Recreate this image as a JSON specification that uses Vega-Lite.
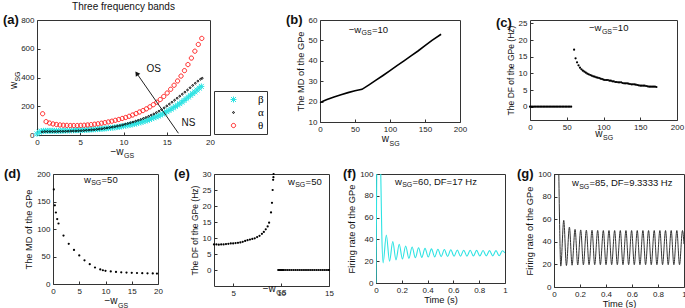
{
"$schema": "https://vega.github.io/schema/vega-lite/v6.json",
"padding": {"left": 2, "top": 1, "right": 0, "bottom": 0},
"background": "white",
"config": {
  "font": "Liberation Sans",
  "view": {"stroke": "#333", "strokeWidth": 1},
  "axis": {"domain": false, "grid": false, "tickSize": -3, "tickCount": 20, "tickColor": "#333", "labelPadding": 6, "labelOverlap": false, "labelFlush": false, "labelFontSize": 8, "labelColor": "#222", "titleFontSize": 9.3, "titleFontWeight": "normal", "titleColor": "#111", "titlePadding": 3},
  "text": {"font": "Liberation Sans", "color": "#111"},
  "title": {"fontSize": 10, "fontWeight": "normal", "color": "#111"}
},
"datasets": {
  "bands": [
{"band":"β","x":0,"y":8},{"band":"β","x":0.25,"y":20},{"band":"β","x":0.5,"y":27},{"band":"β","x":0.75,"y":29},{"band":"β","x":1,"y":29},{"band":"β","x":1.25,"y":29},{"band":"β","x":1.5,"y":29},{"band":"β","x":1.75,"y":29},{"band":"β","x":2,"y":29},{"band":"β","x":2.25,"y":29},{"band":"β","x":2.5,"y":29.5},{"band":"β","x":2.75,"y":29.5},{"band":"β","x":3,"y":30},{"band":"β","x":3.25,"y":30.5},{"band":"β","x":3.5,"y":31},{"band":"β","x":3.75,"y":31.5},{"band":"β","x":4,"y":32},{"band":"β","x":4.25,"y":32.5},{"band":"β","x":4.5,"y":33},{"band":"β","x":4.75,"y":33.5},{"band":"β","x":5,"y":34},{"band":"β","x":5.25,"y":35},{"band":"β","x":5.5,"y":35.5},{"band":"β","x":5.75,"y":36},{"band":"β","x":6,"y":37},{"band":"β","x":6.25,"y":38},{"band":"β","x":6.5,"y":39},{"band":"β","x":6.75,"y":40},{"band":"β","x":7,"y":41},{"band":"β","x":7.25,"y":42},{"band":"β","x":7.5,"y":43.5},{"band":"β","x":7.75,"y":45},{"band":"β","x":8,"y":46},{"band":"β","x":8.25,"y":48},{"band":"β","x":8.5,"y":49.5},{"band":"β","x":8.75,"y":51},{"band":"β","x":9,"y":53},{"band":"β","x":9.25,"y":55},{"band":"β","x":9.5,"y":57},{"band":"β","x":9.75,"y":59.5},{"band":"β","x":10,"y":62},{"band":"β","x":10.25,"y":65},{"band":"β","x":10.5,"y":68},{"band":"β","x":10.75,"y":71},{"band":"β","x":11,"y":74},{"band":"β","x":11.25,"y":77},{"band":"β","x":11.5,"y":81},{"band":"β","x":11.75,"y":85},{"band":"β","x":12,"y":89},{"band":"β","x":12.25,"y":93},{"band":"β","x":12.5,"y":98},{"band":"β","x":12.75,"y":103},{"band":"β","x":13,"y":108},{"band":"β","x":13.25,"y":114},{"band":"β","x":13.5,"y":120},{"band":"β","x":13.75,"y":126},{"band":"β","x":14,"y":132},{"band":"β","x":14.25,"y":139},{"band":"β","x":14.5,"y":146},{"band":"β","x":14.75,"y":154},{"band":"β","x":15,"y":162},{"band":"β","x":15.25,"y":171},{"band":"β","x":15.5,"y":180},{"band":"β","x":15.75,"y":189},{"band":"β","x":16,"y":198},{"band":"β","x":16.25,"y":208},{"band":"β","x":16.5,"y":218},{"band":"β","x":16.75,"y":229},{"band":"β","x":17,"y":240},{"band":"β","x":17.25,"y":252},{"band":"β","x":17.5,"y":264},{"band":"β","x":17.75,"y":276},{"band":"β","x":18,"y":288},{"band":"β","x":18.25,"y":300},{"band":"β","x":18.5,"y":313},{"band":"β","x":18.75,"y":326},{"band":"β","x":19,"y":338},
{"band":"α","x":0.6,"y":22},{"band":"α","x":0.9,"y":24},{"band":"α","x":1.2,"y":24},{"band":"α","x":1.5,"y":24},{"band":"α","x":1.8,"y":24},{"band":"α","x":2.1,"y":24},{"band":"α","x":2.4,"y":24.5},{"band":"α","x":2.7,"y":25},{"band":"α","x":3,"y":25},{"band":"α","x":3.3,"y":25.5},{"band":"α","x":3.6,"y":26},{"band":"α","x":3.9,"y":27},{"band":"α","x":4.2,"y":27.5},{"band":"α","x":4.5,"y":28},{"band":"α","x":4.8,"y":29},{"band":"α","x":5.1,"y":30},{"band":"α","x":5.4,"y":31},{"band":"α","x":5.7,"y":32.5},{"band":"α","x":6,"y":34},{"band":"α","x":6.3,"y":35.5},{"band":"α","x":6.6,"y":37},{"band":"α","x":6.9,"y":39},{"band":"α","x":7.2,"y":41},{"band":"α","x":7.5,"y":43.5},{"band":"α","x":7.8,"y":46},{"band":"α","x":8.1,"y":49},{"band":"α","x":8.4,"y":52},{"band":"α","x":8.7,"y":55},{"band":"α","x":9,"y":58},{"band":"α","x":9.3,"y":62},{"band":"α","x":9.6,"y":66},{"band":"α","x":9.9,"y":70},{"band":"α","x":10.2,"y":75},{"band":"α","x":10.5,"y":80},{"band":"α","x":10.8,"y":85},{"band":"α","x":11.1,"y":90},{"band":"α","x":11.4,"y":96},{"band":"α","x":11.7,"y":102},{"band":"α","x":12,"y":108},{"band":"α","x":12.3,"y":115},{"band":"α","x":12.6,"y":122},{"band":"α","x":12.9,"y":130},{"band":"α","x":13.2,"y":138},{"band":"α","x":13.5,"y":146},{"band":"α","x":13.8,"y":156},{"band":"α","x":14.1,"y":166},{"band":"α","x":14.4,"y":177},{"band":"α","x":14.7,"y":189},{"band":"α","x":15,"y":202},{"band":"α","x":15.3,"y":215},{"band":"α","x":15.6,"y":228},{"band":"α","x":15.9,"y":242},{"band":"α","x":16.2,"y":256},{"band":"α","x":16.5,"y":270},{"band":"α","x":16.8,"y":284},{"band":"α","x":17.1,"y":298},{"band":"α","x":17.4,"y":313},{"band":"α","x":17.7,"y":329},{"band":"α","x":18,"y":345},{"band":"α","x":18.3,"y":360},{"band":"α","x":18.6,"y":375},{"band":"α","x":18.9,"y":388},{"band":"α","x":19.1,"y":395},
{"band":"θ","x":0.65,"y":148},{"band":"θ","x":1.05,"y":93},{"band":"θ","x":1.45,"y":83},{"band":"θ","x":1.85,"y":77},{"band":"θ","x":2.25,"y":73},{"band":"θ","x":2.65,"y":70},{"band":"θ","x":3.05,"y":68},{"band":"θ","x":3.45,"y":67},{"band":"θ","x":3.85,"y":66},{"band":"θ","x":4.25,"y":66},{"band":"θ","x":4.65,"y":66},{"band":"θ","x":5.05,"y":67},{"band":"θ","x":5.45,"y":68},{"band":"θ","x":5.85,"y":70},{"band":"θ","x":6.25,"y":72},{"band":"θ","x":6.65,"y":75},{"band":"θ","x":7.05,"y":78},{"band":"θ","x":7.45,"y":82},{"band":"θ","x":7.85,"y":86},{"band":"θ","x":8.25,"y":91},{"band":"θ","x":8.65,"y":96},{"band":"θ","x":9.05,"y":102},{"band":"θ","x":9.45,"y":108},{"band":"θ","x":9.85,"y":115},{"band":"θ","x":10.25,"y":122},{"band":"θ","x":10.65,"y":130},{"band":"θ","x":11.05,"y":139},{"band":"θ","x":11.45,"y":149},{"band":"θ","x":11.85,"y":160},{"band":"θ","x":12.25,"y":170},{"band":"θ","x":12.65,"y":182},{"band":"θ","x":13.05,"y":196},{"band":"θ","x":13.45,"y":211},{"band":"θ","x":13.85,"y":228},{"band":"θ","x":14.25,"y":247},{"band":"θ","x":14.65,"y":268},{"band":"θ","x":15.05,"y":292},{"band":"θ","x":15.45,"y":318},{"band":"θ","x":15.85,"y":346},{"band":"θ","x":16.25,"y":376},{"band":"θ","x":16.65,"y":410},{"band":"θ","x":17.05,"y":448},{"band":"θ","x":17.45,"y":490},{"band":"θ","x":17.85,"y":535},{"band":"θ","x":18.25,"y":583},{"band":"θ","x":18.65,"y":630},{"band":"θ","x":19.05,"y":672}
  ],
  "b": [
{"x":0,"y":19.5},{"x":5,"y":20.3},{"x":10,"y":21},{"x":20,"y":22.3},{"x":30,"y":23.4},{"x":40,"y":24.4},{"x":50,"y":25.3},{"x":60,"y":26},{"x":70,"y":28.2},{"x":80,"y":30.5},{"x":90,"y":32.8},{"x":100,"y":35.2},{"x":110,"y":37.6},{"x":120,"y":40},{"x":130,"y":42.4},{"x":140,"y":44.8},{"x":150,"y":47.4},{"x":160,"y":50},{"x":173,"y":53}
  ],
  "c": [
{"x":0,"y":0},{"x":2,"y":0},{"x":4,"y":0},{"x":6,"y":0},{"x":8,"y":0},{"x":10,"y":0},{"x":12,"y":0},{"x":14,"y":0},{"x":16,"y":0},{"x":18,"y":0},{"x":20,"y":0},{"x":22,"y":0},{"x":24,"y":0},{"x":26,"y":0},{"x":28,"y":0},{"x":30,"y":0},{"x":32,"y":0},{"x":34,"y":0},{"x":36,"y":0},{"x":38,"y":0},{"x":40,"y":0},{"x":42,"y":0},{"x":44,"y":0},{"x":46,"y":0},{"x":48,"y":0},{"x":50,"y":0},{"x":52,"y":0},{"x":54,"y":0},{"x":56,"y":0},
{"x":60,"y":17.1},{"x":62,"y":14.5},{"x":64,"y":13.3},{"x":66,"y":12.4},{"x":68,"y":11.7},{"x":70,"y":11.2},{"x":72,"y":10.8},{"x":74,"y":10.5},{"x":76,"y":10.2},{"x":78,"y":9.9},{"x":80,"y":9.7},{"x":82,"y":9.5},{"x":84,"y":9.3},{"x":86,"y":9.1},{"x":88,"y":9.0},{"x":90,"y":8.8},{"x":92,"y":8.7},{"x":94,"y":8.6},{"x":96,"y":8.4},{"x":98,"y":8.3},{"x":100,"y":8.1},{"x":102,"y":8.0},{"x":104,"y":8.0},{"x":106,"y":8.0},{"x":108,"y":7.8},{"x":110,"y":7.8},{"x":112,"y":7.6},{"x":114,"y":7.6},{"x":116,"y":7.4},{"x":118,"y":7.4},{"x":120,"y":7.3},{"x":122,"y":7.3},{"x":124,"y":7.3},{"x":126,"y":7.1},{"x":128,"y":7.0},{"x":130,"y":7.0},{"x":132,"y":7.0},{"x":134,"y":6.9},{"x":136,"y":6.8},{"x":138,"y":6.7},{"x":140,"y":6.7},{"x":142,"y":6.7},{"x":144,"y":6.6},{"x":146,"y":6.5},{"x":148,"y":6.4},{"x":150,"y":6.3},{"x":152,"y":6.3},{"x":154,"y":6.3},{"x":156,"y":6.3},{"x":158,"y":6.2},{"x":160,"y":6.1},{"x":162,"y":6.0},{"x":164,"y":6.0},{"x":166,"y":6.0},{"x":168,"y":6.0},{"x":170,"y":6.0},{"x":172,"y":5.9}
  ],
  "d": [
{"x":0.15,"y":172},{"x":0.35,"y":143},{"x":0.55,"y":130},{"x":0.8,"y":118},{"x":1.05,"y":110},{"x":2,"y":88},{"x":3,"y":73},{"x":4,"y":62},{"x":5,"y":52},{"x":6,"y":43},{"x":7,"y":36},{"x":8,"y":30},{"x":9,"y":26.5},{"x":9.5,"y":25},{"x":10,"y":24},{"x":11,"y":22.8},{"x":12,"y":22},{"x":13,"y":21.3},{"x":14,"y":20.8},{"x":15,"y":20.4},{"x":16,"y":20},{"x":17,"y":19.7},{"x":18,"y":19.4},{"x":19,"y":19.2},{"x":19.8,"y":19}
  ],
  "e": [
{"x":3.0,"y":8.0},{"x":3.25,"y":8.0},{"x":3.5,"y":7.9},{"x":3.75,"y":8.0},{"x":4.0,"y":8.0},{"x":4.25,"y":8.1},{"x":4.5,"y":8.2},{"x":4.75,"y":8.3},{"x":5.0,"y":8.3},{"x":5.25,"y":8.4},{"x":5.5,"y":8.5},{"x":5.75,"y":8.6},{"x":6.0,"y":8.8},{"x":6.25,"y":9.1},{"x":6.5,"y":9.3},{"x":6.75,"y":9.5},{"x":7.0,"y":9.7},{"x":7.25,"y":9.9},{"x":7.5,"y":10.3},{"x":7.75,"y":10.7},{"x":8.0,"y":11.3},{"x":8.2,"y":11.9},{"x":8.4,"y":12.7},{"x":8.6,"y":13.6},{"x":8.75,"y":14.8},{"x":8.95,"y":18},{"x":9.05,"y":21},{"x":9.12,"y":25},{"x":9.17,"y":28.2},{"x":9.2,"y":29},{"x":9.22,"y":30},
{"x":9.7,"y":0},{"x":9.8,"y":0},{"x":9.9,"y":0},{"x":10.0,"y":0},{"x":10.1,"y":0},{"x":10.2,"y":0},{"x":10.3,"y":0},{"x":10.5,"y":0},{"x":10.7,"y":0},{"x":10.9,"y":0},{"x":11.1,"y":0},{"x":11.3,"y":0},{"x":11.5,"y":0},{"x":11.7,"y":0},{"x":11.9,"y":0},{"x":12.1,"y":0},{"x":12.3,"y":0},{"x":12.5,"y":0},{"x":12.7,"y":0},{"x":12.9,"y":0},{"x":13.1,"y":0},{"x":13.3,"y":0},{"x":13.5,"y":0},{"x":13.7,"y":0},{"x":13.9,"y":0},{"x":14.1,"y":0},{"x":14.3,"y":0},{"x":14.5,"y":0},{"x":14.7,"y":0},{"x":14.9,"y":0},{"x":15.0,"y":0}
  ],
  "f": [
{"x":0,"y":0},{"x":0.004,"y":70},{"x":0.009,"y":150},{"x":0.02,"y":190},{"x":0.031,"y":150},{"x":0.037,"y":100},{"x":0.045,"y":45},
{"x":0.055,"y":18.5},{"x":0.08,"y":44},{"x":0.105,"y":20},{"x":0.13,"y":38},{"x":0.155,"y":21.2},{"x":0.18,"y":35.5},{"x":0.205,"y":22},{"x":0.23,"y":34},{"x":0.255,"y":22.6},{"x":0.28,"y":33},{"x":0.305,"y":23.1},{"x":0.33,"y":32.3},{"x":0.355,"y":23.5},{"x":0.38,"y":31.8},{"x":0.405,"y":23.8},{"x":0.43,"y":31.3},{"x":0.455,"y":24},{"x":0.48,"y":31},{"x":0.505,"y":24.2},{"x":0.53,"y":30.7},{"x":0.555,"y":24.4},{"x":0.58,"y":30.5},{"x":0.605,"y":24.5},{"x":0.63,"y":30.3},{"x":0.655,"y":24.6},{"x":0.68,"y":30.1},{"x":0.705,"y":24.7},{"x":0.73,"y":30},{"x":0.755,"y":24.8},{"x":0.78,"y":29.9},{"x":0.805,"y":24.8},{"x":0.83,"y":29.8},{"x":0.855,"y":24.9},{"x":0.88,"y":29.7},{"x":0.905,"y":24.9},{"x":0.93,"y":29.7},{"x":0.955,"y":25},{"x":0.98,"y":29.6},{"x":1.0,"y":27.5}
  ],
  "g": [
{"x":0,"y":0},{"x":0.004,"y":80},{"x":0.01,"y":160},{"x":0.02,"y":190},{"x":0.03,"y":150},{"x":0.037,"y":100},{"x":0.044,"y":50},
{"x":0.052,"y":18.5},{"x":0.075,"y":59},{"x":0.0955,"y":19},{"x":0.1185,"y":53},{"x":0.139,"y":19.3},{"x":0.162,"y":51},{"x":0.1825,"y":19.5},{"x":0.2055,"y":50.5},{"x":0.226,"y":19.6},{"x":0.249,"y":50.3},{"x":0.2695,"y":19.7},{"x":0.2925,"y":50.2},{"x":0.313,"y":19.7},{"x":0.336,"y":50.1},{"x":0.3565,"y":19.7},{"x":0.3795,"y":50},{"x":0.4,"y":19.7},{"x":0.423,"y":50},{"x":0.4435,"y":19.7},{"x":0.4665,"y":50},{"x":0.487,"y":19.7},{"x":0.51,"y":50},{"x":0.5305,"y":19.7},{"x":0.5535,"y":50},{"x":0.574,"y":19.7},{"x":0.597,"y":50},{"x":0.6175,"y":19.7},{"x":0.6405,"y":50},{"x":0.661,"y":19.7},{"x":0.684,"y":50},{"x":0.7045,"y":19.7},{"x":0.7275,"y":50},{"x":0.748,"y":19.7},{"x":0.771,"y":50},{"x":0.7915,"y":19.7},{"x":0.8145,"y":50},{"x":0.835,"y":19.7},{"x":0.858,"y":50},{"x":0.8785,"y":19.7},{"x":0.9015,"y":50},{"x":0.922,"y":19.7},{"x":0.945,"y":50},{"x":0.9655,"y":19.7},{"x":0.9885,"y":50},{"x":1.0,"y":38}
  ]
},
"spacing": 7,
"vconcat": [
{"hconcat": [
  {"width": 173, "height": 115,
   "title": {"text": "Three frequency bands", "offset": 2},
   "data": {"values": [{}]},
   "layer": [
    {"data": {"name": "bands"},
     "mark": {"type": "point", "filled": false, "strokeWidth": 1, "size": 25, "opacity": 1},
     "encoding": {
      "x": {"field": "x", "type": "quantitative", "scale": {"domain": [0, 20]}, "axis": {"values": [0,5,10,15,20], "tickCount": 20, "title": null, "labelOverlap": false}},
      "y": {"field": "y", "type": "quantitative", "scale": {"domain": [0, 800]}, "axis": {"values": [0,200,400,600,800], "tickCount": 20, "title": null, "labelOverlap": false}},
      "stroke": {"field": "band", "type": "nominal", "scale": {"domain": ["β","α","θ"], "range": ["#2ee3e3","#000000","#ff2020"]},
        "legend": {"orient": "none", "legendX": 177, "legendY": 71, "title": null, "strokeColor": "#333", "fillColor": "white", "padding": 3, "symbolOffset": 11, "labelOffset": 19, "rowPadding": 1, "labelFont": "Liberation Serif", "labelFontSize": 11, "labelColor": "#000", "symbolSize": 25, "symbolStrokeWidth": 1, "labelExpr": "datum.label + ' '"}},
      "shape": {"field": "band", "type": "nominal", "scale": {"domain": ["β","α","θ"], "range": ["M-1,-1L1,1M-1,1L1,-1M-1.2,0L1.2,0M0,-1.2L0,1.2", "M-0.35,0A0.35,0.35,0,1,0,0.35,0A0.35,0.35,0,1,0,-0.35,0Z", "M-0.85,0A0.85,0.85,0,1,0,0.85,0A0.85,0.85,0,1,0,-0.85,0Z"]},
        "legend": {"orient": "none", "legendX": 177, "legendY": 71, "title": null, "strokeColor": "#333", "fillColor": "white", "padding": 3, "symbolOffset": 11, "labelOffset": 19, "rowPadding": 1, "labelFont": "Liberation Serif", "labelFontSize": 11, "labelColor": "#000", "symbolSize": 25, "symbolStrokeWidth": 1, "labelExpr": "datum.label + ' '"}}
     }},
    {"mark": {"type": "rule", "color": "#222", "strokeWidth": 1}, "encoding": {"x": {"datum": 16.35}, "y": {"datum": 12}, "x2": {"datum": 11.53}, "y2": {"datum": 429}}},
    {"mark": {"type": "point", "shape": "triangle-up", "size": 30, "angle": 325, "filled": true, "color": "#111", "opacity": 1}, "encoding": {"x": {"datum": 11.53}, "y": {"datum": 429}}},
    {"mark": {"type": "text", "text": "OS", "fontSize": 10}, "encoding": {"x": {"datum": 13.5}, "y": {"datum": 462}}},
    {"mark": {"type": "text", "text": "NS", "fontSize": 10}, "encoding": {"x": {"datum": 17.5}, "y": {"datum": 81}}},
    {"mark": {"type": "text", "text": "(a)", "align": "left", "dx": -34, "fontSize": 13, "fontWeight": "bold"}, "encoding": {"x": {"datum": 0}, "y": {"datum": 800}}},
    {"mark": {"type": "text", "text": "−w", "align": "right", "dy": 17, "fontSize": 10}, "encoding": {"x": {"datum": 10}, "y": {"datum": 0}}},
    {"mark": {"type": "text", "text": "GS", "align": "left", "dx": 0.5, "dy": 21, "fontSize": 7}, "encoding": {"x": {"datum": 10}, "y": {"datum": 0}}},
    {"mark": {"type": "text", "text": "w", "angle": 270, "dy": -23, "fontSize": 10}, "encoding": {"x": {"datum": 0}, "y": {"datum": 345}}},
    {"mark": {"type": "text", "text": "SG", "angle": 270, "align": "left", "dx": 3.8, "dy": -19.5, "fontSize": 7}, "encoding": {"x": {"datum": 0}, "y": {"datum": 345}}}
   ]},
  {"width": 70, "height": 1, "view": {"stroke": null}, "data": {"values": []}, "mark": "point"},
  {"width": 140, "height": 102,
   "data": {"values": [{}]},
   "layer": [
    {"data": {"name": "b"}, "mark": {"type": "line", "color": "#000", "strokeWidth": 1.6},
     "encoding": {
      "x": {"field": "x", "type": "quantitative", "scale": {"domain": [0, 200]}, "axis": {"values": [0,50,100,150,200], "tickCount": 20, "title": null, "labelOverlap": false}},
      "y": {"field": "y", "type": "quantitative", "scale": {"domain": [10, 60]}, "axis": {"values": [10,20,30,40,50,60], "tickCount": 20, "title": "The MD of the GPe", "labelOverlap": false}}
     }},
    {"mark": {"type": "text", "text": "(b)", "align": "left", "dx": -34, "fontSize": 13, "fontWeight": "bold"}, "encoding": {"x": {"datum": 0}, "y": {"datum": 60}}},
    {"mark": {"type": "text", "text": "w", "align": "right", "dx": -1, "dy": 17, "fontSize": 10}, "encoding": {"x": {"datum": 100}, "y": {"datum": 10}}},
    {"mark": {"type": "text", "text": "SG", "align": "left", "dx": -0.5, "dy": 21.5, "fontSize": 7}, "encoding": {"x": {"datum": 100}, "y": {"datum": 10}}},
    {"mark": {"type": "text", "text": "−w", "align": "left", "fontSize": 9.5}, "encoding": {"x": {"datum": 41}, "y": {"datum": 55.1}}},
    {"mark": {"type": "text", "text": "GS", "align": "left", "dx": 12.9, "dy": 3.5, "fontSize": 7}, "encoding": {"x": {"datum": 41}, "y": {"datum": 55.1}}},
    {"mark": {"type": "text", "text": "=10", "align": "left", "dx": 23.3, "fontSize": 9.5}, "encoding": {"x": {"datum": 41}, "y": {"datum": 55.1}}}
   ]},
  {"width": 30, "height": 1, "view": {"stroke": null}, "data": {"values": []}, "mark": "point"},
  {"width": 147, "height": 100,
   "data": {"values": [{}]},
   "layer": [
    {"data": {"name": "c"}, "mark": {"type": "circle", "size": 5, "color": "#000", "opacity": 1},
     "encoding": {
      "x": {"field": "x", "type": "quantitative", "scale": {"domain": [0, 200]}, "axis": {"values": [0,50,100,150,200], "tickCount": 20, "title": null, "labelOverlap": false}},
      "y": {"field": "y", "type": "quantitative", "scale": {"domain": [-3, 25]}, "axis": {"values": [0,5,10,15,20,25], "tickCount": 20, "title": "The DF of the GPe (Hz)", "titleFontSize": 8.5, "labelOverlap": false}}
     }},
    {"mark": {"type": "text", "text": "(c)", "align": "left", "dx": -34, "fontSize": 13, "fontWeight": "bold"}, "encoding": {"x": {"datum": 0}, "y": {"datum": 25}}},
    {"mark": {"type": "text", "text": "w", "align": "right", "dx": -1, "dy": 17, "fontSize": 10}, "encoding": {"x": {"datum": 100}, "y": {"datum": -3}}},
    {"mark": {"type": "text", "text": "SG", "align": "left", "dx": -0.5, "dy": 21.5, "fontSize": 7}, "encoding": {"x": {"datum": 100}, "y": {"datum": -3}}},
    {"mark": {"type": "text", "text": "−w", "align": "left", "fontSize": 9.5}, "encoding": {"x": {"datum": 80.3}, "y": {"datum": 23.6}}},
    {"mark": {"type": "text", "text": "GS", "align": "left", "dx": 12.9, "dy": 3.5, "fontSize": 7}, "encoding": {"x": {"datum": 80.3}, "y": {"datum": 23.6}}},
    {"mark": {"type": "text", "text": "=10", "align": "left", "dx": 23.3, "fontSize": 9.5}, "encoding": {"x": {"datum": 80.3}, "y": {"datum": 23.6}}}
   ]}
 ], "spacing": 20, "bounds": "flush"},
{"hconcat": [
  {"width": 8, "height": 1, "view": {"stroke": null}, "data": {"values": []}, "mark": "point"},
  {"width": 105, "height": 110,
   "data": {"values": [{}]},
   "layer": [
    {"data": {"name": "d"}, "mark": {"type": "circle", "size": 5, "color": "#000", "opacity": 1},
     "encoding": {
      "x": {"field": "x", "type": "quantitative", "scale": {"domain": [0, 20]}, "axis": {"values": [0,5,10,15,20], "tickCount": 20, "title": null, "labelOverlap": false}},
      "y": {"field": "y", "type": "quantitative", "scale": {"domain": [0, 200]}, "axis": {"values": [0,50,100,150,200], "tickCount": 20, "title": "The MD of the GPe", "labelOverlap": false}}
     }},
    {"mark": {"type": "text", "text": "(d)", "align": "left", "dx": -49, "fontSize": 13, "fontWeight": "bold"}, "encoding": {"x": {"datum": 0}, "y": {"datum": 200}}},
    {"mark": {"type": "text", "text": "−w", "align": "right", "dx": 12, "dy": 17, "fontSize": 10}, "encoding": {"x": {"datum": 10}, "y": {"datum": 0}}},
    {"mark": {"type": "text", "text": "GS", "align": "left", "dx": 12.5, "dy": 21.5, "fontSize": 7}, "encoding": {"x": {"datum": 10}, "y": {"datum": 0}}},
    {"mark": {"type": "text", "text": "w", "align": "left", "fontSize": 9.5}, "encoding": {"x": {"datum": 5.9}, "y": {"datum": 190}}},
    {"mark": {"type": "text", "text": "SG", "align": "left", "dx": 7.2, "dy": 3.5, "fontSize": 7}, "encoding": {"x": {"datum": 5.9}, "y": {"datum": 190}}},
    {"mark": {"type": "text", "text": "=50", "align": "left", "dx": 17.6, "fontSize": 9.5}, "encoding": {"x": {"datum": 5.9}, "y": {"datum": 190}}}
   ]},
  {"width": 40, "height": 1, "view": {"stroke": null}, "data": {"values": []}, "mark": "point"},
  {"width": 115, "height": 112,
   "data": {"values": [{}]},
   "layer": [
    {"data": {"name": "e"}, "mark": {"type": "circle", "size": 5, "color": "#000", "opacity": 1},
     "encoding": {
      "x": {"field": "x", "type": "quantitative", "scale": {"domain": [3, 15]}, "axis": {"values": [5,10,15], "tickCount": 20, "format": "~g", "title": null, "labelOverlap": false}},
      "y": {"field": "y", "type": "quantitative", "scale": {"domain": [-3, 30]}, "axis": {"values": [0,5,10,15,20,25,30], "tickCount": 20, "title": "The DF of the GPe (Hz)", "titleFontSize": 8.5, "labelOverlap": false}}
     }},
    {"mark": {"type": "text", "text": "(e)", "align": "left", "dx": -40, "fontSize": 13, "fontWeight": "bold"}, "encoding": {"x": {"datum": 3}, "y": {"datum": 30}}},
    {"mark": {"type": "text", "text": "−w", "align": "right", "dy": 9, "fontSize": 10}, "encoding": {"x": {"datum": 9.45}, "y": {"datum": -3}}},
    {"mark": {"type": "text", "text": "GS", "align": "left", "dx": 0.5, "dy": 13.5, "fontSize": 7}, "encoding": {"x": {"datum": 9.45}, "y": {"datum": -3}}},
    {"mark": {"type": "text", "text": "w", "align": "left", "fontSize": 9.5}, "encoding": {"x": {"datum": 10.72}, "y": {"datum": 27.6}}},
    {"mark": {"type": "text", "text": "SG", "align": "left", "dx": 7.2, "dy": 3.5, "fontSize": 7}, "encoding": {"x": {"datum": 10.72}, "y": {"datum": 27.6}}},
    {"mark": {"type": "text", "text": "=50", "align": "left", "dx": 17.6, "fontSize": 9.5}, "encoding": {"x": {"datum": 10.72}, "y": {"datum": 27.6}}}
   ]},
  {"width": 31, "height": 1, "view": {"stroke": null}, "data": {"values": []}, "mark": "point"},
  {"width": 129, "height": 109,
   "data": {"values": [{}]},
   "layer": [
    {"data": {"name": "f"}, "mark": {"type": "line", "color": "#2ee3e3", "strokeWidth": 1.1, "interpolate": "monotone", "clip": true},
     "encoding": {
      "x": {"field": "x", "type": "quantitative", "scale": {"domain": [0, 1]}, "axis": {"values": [0,0.2,0.4,0.6,0.8,1], "tickCount": 20, "format": "~g", "title": "Time (s)", "titlePadding": 1, "labelOverlap": false}},
      "y": {"field": "y", "type": "quantitative", "scale": {"domain": [0, 100]}, "axis": {"values": [0,20,40,60,80,100], "tickCount": 20, "title": "Firing rate of the GPe", "labelOverlap": false}}
     }},
    {"mark": {"type": "text", "text": "(f)", "align": "left", "dx": -33, "fontSize": 13, "fontWeight": "bold"}, "encoding": {"x": {"datum": 0}, "y": {"datum": 100}}},
    {"mark": {"type": "text", "text": "w", "align": "left", "fontSize": 9.5}, "encoding": {"x": {"datum": 0.147}, "y": {"datum": 92.7}}},
    {"mark": {"type": "text", "text": "SG", "align": "left", "dx": 7.2, "dy": 3.5, "fontSize": 7}, "encoding": {"x": {"datum": 0.147}, "y": {"datum": 92.7}}},
    {"mark": {"type": "text", "text": "=60, DF=17 Hz", "align": "left", "dx": 17.6, "fontSize": 9.5}, "encoding": {"x": {"datum": 0.147}, "y": {"datum": 92.7}}}
   ]},
  {"width": 33, "height": 1, "view": {"stroke": null}, "data": {"values": []}, "mark": "point"},
  {"width": 130, "height": 113,
   "data": {"values": [{}]},
   "layer": [
    {"data": {"name": "g"}, "mark": {"type": "line", "color": "#333", "strokeWidth": 1, "interpolate": "monotone", "clip": true},
     "encoding": {
      "x": {"field": "x", "type": "quantitative", "scale": {"domain": [0, 1]}, "axis": {"values": [0,0.2,0.4,0.6,0.8,1], "tickCount": 20, "format": "~g", "title": "Time (s)", "titlePadding": 1, "labelOverlap": false}},
      "y": {"field": "y", "type": "quantitative", "scale": {"domain": [0, 100]}, "axis": {"values": [0,20,40,60,80,100], "tickCount": 20, "title": "Firing rate of the GPe", "labelOverlap": false}}
     }},
    {"mark": {"type": "text", "text": "(g)", "align": "left", "dx": -37, "fontSize": 13, "fontWeight": "bold"}, "encoding": {"x": {"datum": 0}, "y": {"datum": 100}}},
    {"mark": {"type": "text", "text": "w", "align": "left", "fontSize": 9.5}, "encoding": {"x": {"datum": 0.138}, "y": {"datum": 92}}},
    {"mark": {"type": "text", "text": "SG", "align": "left", "dx": 7.2, "dy": 3.5, "fontSize": 7}, "encoding": {"x": {"datum": 0.138}, "y": {"datum": 92}}},
    {"mark": {"type": "text", "text": "=85, DF=9.3333 Hz", "align": "left", "dx": 17.6, "fontSize": 9.5}, "encoding": {"x": {"datum": 0.138}, "y": {"datum": 92}}}
   ]}
 ], "spacing": 8, "bounds": "flush"}
]
}
